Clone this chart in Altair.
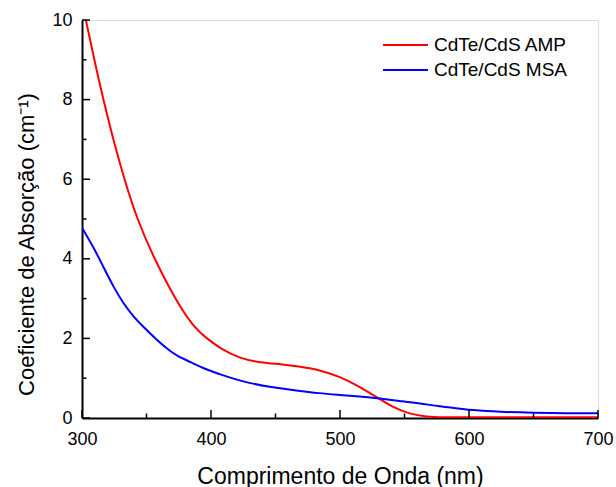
import altair as alt
import pandas as pd

# Data
amp_nm = [303, 309.5, 316.5, 324.2, 332.8, 342.6, 356, 372, 386.3, 396.7, 407, 422,
          438, 456, 469, 484, 500, 515, 530, 541, 554, 567, 580, 600, 650, 700]
amp_val = [10.0, 9.0, 8.0, 7.0, 6.0, 5.0, 4.0, 3.0, 2.29, 2.0, 1.75, 1.50,
           1.39, 1.35, 1.29, 1.21, 1.04, 0.79, 0.49, 0.27, 0.10, 0.03, 0.015, 0.02, 0.02, 0.02]

msa_nm = [300, 308.8, 316.5, 324.3, 332, 339.8, 347.5, 358, 366, 373.4, 383.7, 397, 407, 415, 430,
          448, 466, 484, 500, 515, 531, 546, 562, 577, 593, 601, 624, 650, 676, 700]
msa_val = [4.78, 4.30, 3.80, 3.30, 2.88, 2.55, 2.29, 1.96, 1.74, 1.56, 1.41, 1.21, 1.10, 1.01, 0.87,
           0.77, 0.69, 0.62, 0.58, 0.54, 0.49, 0.43, 0.37, 0.29, 0.24, 0.20, 0.15, 0.13, 0.12, 0.12]

series_names = ["CdTe/CdS AMP", "CdTe/CdS MSA"]
series_colors = ["#FF0000", "#0000FF"]

x_major = [300, 400, 500, 600, 700]
x_minor = [350, 450, 550, 650]
y_major = [0, 2, 4, 6, 8, 10]
y_minor = [1, 3, 5, 7, 9]

W, H = 516, 398
FONT = "Liberation Sans"

df = pd.concat([
    pd.DataFrame({"nm": amp_nm, "val": amp_val, "serie": series_names[0]}),
    pd.DataFrame({"nm": msa_nm, "val": msa_val, "serie": series_names[1]}),
])

xscale = alt.Scale(domain=[300, 700], nice=False)
yscale = alt.Scale(domain=[0, 10], nice=False)

xaxis = alt.Axis(values=x_major, ticks=False, grid=False, labelFontSize=18, labelFont=FONT,
                 labelColor="black", labelPadding=12, labelFlush=False, labelOverlap=False,
                 title="Comprimento de Onda (nm)", titleFont=FONT, titleFontSize=23,
                 titleFontWeight="normal", titleColor="black", titlePadding=17,
                 domainColor="black", domainWidth=2)
yaxis = alt.Axis(values=y_major, ticks=False, grid=False, labelFontSize=18, labelFont=FONT,
                 labelColor="black", labelPadding=10, labelFlush=False, labelOverlap=False,
                 title="Coeficiente de Absorção (cm⁻¹)", titleFont=FONT, titleFontSize=22,
                 titleFontWeight="normal", titleColor="black", titlePadding=13, titleY=224,
                 domainColor="black", domainWidth=2)

lines = alt.Chart(df).mark_line(strokeWidth=2, interpolate="basis", clip=True).encode(
    x=alt.X("nm:Q", scale=xscale, axis=xaxis),
    y=alt.Y("val:Q", scale=yscale, axis=yaxis),
    color=alt.Color("serie:N", scale=alt.Scale(domain=series_names, range=series_colors), legend=None),
    detail="serie:N",
)

def xticks(vals, length):
    return alt.Chart(pd.DataFrame({"t": vals})).mark_rule(color="black", strokeWidth=1.5).encode(
        x=alt.X("t:Q", scale=xscale), y=alt.value(H), y2=alt.value(H - length))

def yticks(vals, length):
    return alt.Chart(pd.DataFrame({"t": vals})).mark_rule(color="black", strokeWidth=1.5).encode(
        y=alt.Y("t:Q", scale=yscale), x=alt.value(0), x2=alt.value(length))

layers = [lines, xticks(x_major, 8), xticks(x_minor, 4.5), yticks(y_major, 8), yticks(y_minor, 4.5)]

# manual legend (top right inside plot)
for i, (name, col) in enumerate(zip(series_names, series_colors)):
    yy = 25 + 25 * i
    layers.append(alt.Chart(pd.DataFrame({"s": [name]})).mark_rule(color=col, strokeWidth=2).encode(
        x=alt.value(301), x2=alt.value(346), y=alt.value(yy)))
    layers.append(alt.Chart(pd.DataFrame({"s": [name]})).mark_text(
        align="left", baseline="middle", font=FONT, fontSize=19, color="black").encode(
        x=alt.value(352), y=alt.value(yy), text="s:N"))

chart = alt.layer(*layers).properties(
    width=W, height=H,
    autosize=alt.AutoSizeParams(type="none"),
    padding={"left": 82, "top": 20, "right": 18, "bottom": 69},
).configure_view(stroke="black", strokeWidth=2).configure(background="white")

chart.save("out.html", embed_options={"renderer": "svg", "actions": False})
